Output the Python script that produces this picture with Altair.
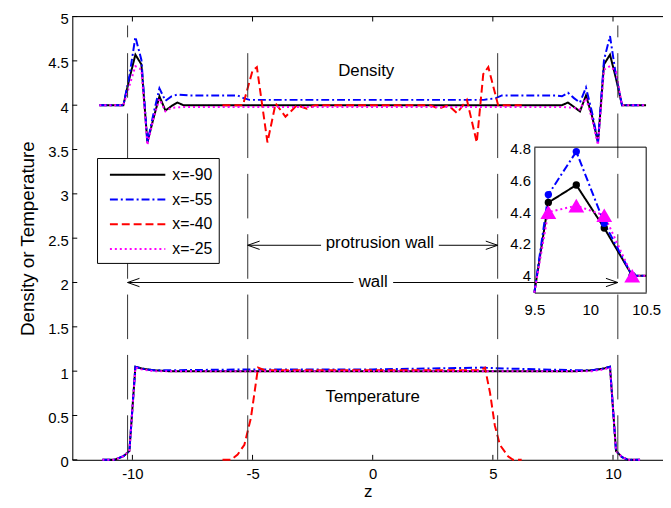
import altair as alt
import pandas as pd

FONT = "Liberation Sans"

series = ["x=-90", "x=-55", "x=-40", "x=-25"]
colors = ["#000000", "#0000ff", "#ff0000", "#ff00ff"]
dashes = [[1, 0], [8, 3, 2, 3], [8, 4], [2, 3]]

# ---- density profiles ----
dens_black_z = [-11.375, -10.375, -10.125, -9.875, -9.625, -9.375, -9.125, -8.875, -8.625, -8.375, -8.125, -7.875,
                7.875, 8.125, 8.375, 8.625, 8.875, 9.125, 9.375, 9.625, 9.875, 10.125, 10.375, 11.375]
dens_black_v = [4.0, 4.0, 4.30, 4.57, 4.46, 3.58, 3.85, 4.10, 3.94, 3.99, 4.03, 4.0,
                4.0, 4.03, 3.98, 3.93, 4.11, 3.88, 3.58, 4.46, 4.57, 4.30, 4.0, 4.0]

dens_blue_z = [-11.375, -10.375, -10.125, -9.875, -9.625, -9.375, -9.125, -8.875, -8.625, -8.375, -8.125, -7.625,
               -5.625, -5.375, -5.125, -4.625, 4.625, 5.125, 5.375, 7.625, 7.875, 8.125, 8.375, 8.625, 8.875,
               9.125, 9.375, 9.625, 9.875, 10.125, 10.375, 11.375]
dens_blue_v = [4.0, 4.0, 4.33, 4.77, 4.51, 3.58, 3.90, 4.19, 4.05, 4.10, 4.12, 4.11,
               4.11, 4.08, 4.06, 4.06, 4.06, 4.08, 4.11, 4.11, 4.10, 4.14, 4.08, 4.03, 4.20,
               3.92, 3.58, 4.51, 4.78, 4.33, 4.0, 4.0]

dens_red_z = [-6.25, -5.4, -5.0, -4.82, -4.38, -4.04, -3.63, -3.15, -2.74, -2.4,
              2.4, 2.74, 3.15, 3.51, 3.92, 4.33, 4.6, 4.81, 5.22, 6.2]
dens_red_v = [4.0, 4.0, 4.39, 4.43, 3.58, 4.02, 3.87, 4.0, 3.96, 4.0,
              4.0, 3.96, 4.0, 3.91, 4.06, 3.58, 4.35, 4.43, 4.0, 4.0]

dens_mag_z = [-11.375, -10.375, -10.125, -9.875, -9.625, -9.375, -9.125, -8.875, -8.625, -8.375, -7.875,
              7.875, 8.375, 8.625, 8.875, 9.125, 9.375, 9.625, 9.875, 10.125, 10.375, 11.375]
dens_mag_v = [4.0, 4.0, 4.22, 4.44, 4.40, 3.55, 3.85, 4.07, 3.93, 3.97, 3.98,
              3.98, 3.97, 3.95, 4.08, 3.85, 3.55, 4.40, 4.44, 4.38, 4.0, 4.0]

# ---- temperature profiles ----
temp_black_z = [-11.25, -10.75, -10.375, -10.125, -9.875, -9.625, -9.125, -8.5,
                8.5, 9.125, 9.625, 9.875, 10.125, 10.375, 10.625, 11.125]
temp_black_v = [0.0, 0.0, 0.04, 0.10, 1.05, 1.03, 1.01, 1.0,
                1.0, 1.01, 1.03, 1.05, 0.10, 0.03, 0.0, 0.0]

temp_blue_z = [-11.25, -10.75, -10.375, -10.125, -9.875, -9.625, -9.125, -8.5, -5.0, 0.0, 4.5, 5.5,
               8.5, 9.125, 9.625, 9.875, 10.125, 10.375, 10.625, 11.125]
temp_blue_v = [0.0, 0.0, 0.04, 0.10, 1.05, 1.03, 1.01, 1.01, 1.02, 1.02, 1.04, 1.03,
               1.01, 1.01, 1.03, 1.05, 0.10, 0.03, 0.0, 0.0]

temp_red_z = [-6.25, -5.9, -5.62, -5.34, -5.07, -4.77, -4.5, 4.5, 4.67, 4.88, 5.08, 5.29, 5.63, 5.84, 6.2]
temp_red_v = [0.0, 0.0, 0.06, 0.17, 0.47, 1.04, 1.01, 1.01, 1.04, 0.76, 0.39, 0.17, 0.04, 0.0, 0.0]

temp_mag_z = [-11.25, -10.75, -10.375, -10.125, -9.875, -9.625, -9.125, -8.5,
              8.5, 9.125, 9.625, 9.875, 10.125, 10.375, 10.625, 11.125]
temp_mag_v = [0.0, 0.0, 0.04, 0.10, 1.04, 1.02, 1.0, 1.0,
              1.0, 1.0, 1.02, 1.04, 0.10, 0.03, 0.0, 0.0]

# ---- annotations ----
wall_z = [-10.2, 10.2]
wall_top = 4.9
prot_z = [-5.2, 5.2]
prot_top = 4.6
labels_text = ["Density", "Temperature", "protrusion wall", "wall"]
labels_z = [-0.27, 0.0, 0.3, 0.02]
labels_v = [4.38, 0.71, 2.445, 2.01]
arrow_seg_z1 = [-5.2, 2.75, -10.2, 0.85]
arrow_seg_z2 = [-2.15, 5.2, -0.8, 10.2]
arrow_seg_v = [2.42, 2.42, 2.0, 2.0]
arrow_left_z = [-5.2, -10.2]
arrow_right_z = [5.2, 10.2]
arrow_head_v = [2.42, 2.0]

y_ticks = [0, 0.5, 1, 1.5, 2, 2.5, 3, 3.5, 4, 4.5, 5]
x_ticks = [-10, -5, 0, 5, 10]
inset_y_ticks = [4, 4.2, 4.4, 4.6, 4.8]
inset_x_ticks = [9.5, 10, 10.5]

XMIN, XMAX = -12.5, 12.08
W, H = 597, 448
# inset geometry (pixels inside plot area)
IN_L, IN_R, IN_T, IN_B = 467, 580, 132, 279
IN_XD = [9.5, 10.5]
IN_YD = [3.894, 4.808]

rows = []
for s, kind, zs, vs in [
    ("x=-90", "d", dens_black_z, dens_black_v), ("x=-55", "d", dens_blue_z, dens_blue_v),
    ("x=-40", "d", dens_red_z, dens_red_v), ("x=-25", "d", dens_mag_z, dens_mag_v),
    ("x=-90", "t", temp_black_z, temp_black_v), ("x=-55", "t", temp_blue_z, temp_blue_v),
    ("x=-40", "t", temp_red_z, temp_red_v), ("x=-25", "t", temp_mag_z, temp_mag_v)]:
    for i, (z, v) in enumerate(zip(zs, vs)):
        rows.append({"z": z, "v": v, "series": s, "kind": kind, "i": i})
df = pd.DataFrame(rows)

xs = alt.Scale(domain=[XMIN, XMAX], nice=False, zero=False)
ys = alt.Scale(domain=[0, 5], nice=False, zero=False)
color_scale = alt.Scale(domain=series, range=colors)
dash_scale = alt.Scale(domain=series, range=dashes)

legend = alt.Legend(
    title=None, orient="none", legendX=25, legendY=143, padding=6,
    strokeColor="black", fillColor="white", labelFont=FONT, labelFontSize=16,
    labelColor="black", symbolType="M-0.8,0L4.8,0", symbolSize=400,
    symbolStrokeWidth=2, rowPadding=6, columnPadding=0, labelOffset=44, symbolOffset=4,
)

x_axis = alt.Axis(values=x_ticks, labelExpr="'' + datum.value", title="z",
                  grid=False, ticks=False, domainColor="black", labelPadding=7,
                  labelFont=FONT, labelFontSize=15, labelColor="black",
                  titleFont=FONT, titleFontSize=17, titleFontWeight="normal",
                  titleColor="black", titlePadding=2)
y_axis = alt.Axis(values=y_ticks, labelExpr="'' + datum.value",
                  title="Density or Temperature", grid=False, ticks=False,
                  domainColor="black", labelPadding=4, labelOffset=2, labelFont=FONT,
                  labelFontSize=15, labelColor="black", titleFont=FONT,
                  titleFontSize=19, titleFontWeight="normal", titleColor="black",
                  titlePadding=10)


def series_layer(name, with_legend):
    lg = legend if with_legend else None
    return alt.Chart(df).transform_filter(alt.datum.series == name).mark_line(strokeWidth=2).encode(
        x=alt.X("z:Q", scale=xs, axis=x_axis),
        y=alt.Y("v:Q", scale=ys, axis=y_axis),
        color=alt.Color("series:N", scale=color_scale, legend=lg),
        strokeDash=alt.StrokeDash("series:N", scale=dash_scale, legend=lg),
        detail="kind:N",
        order="i:Q",
    )


vdf = pd.DataFrame({"z": wall_z + prot_z, "bot": [0.0] * 4, "top": [wall_top] * 2 + [prot_top] * 2})
vlines = alt.Chart(vdf).mark_rule(color="#333333", strokeWidth=1, strokeDash=[45, 16]).encode(
    x=alt.X("z:Q", scale=xs), y=alt.Y("bot:Q", scale=ys), y2="top:Q")

ytdf = pd.DataFrame({"v": y_ticks})
yt = alt.Chart(ytdf).mark_rule(color="black", strokeWidth=1).encode(
    y=alt.Y("v:Q", scale=ys), x=alt.value(0), x2=alt.value(5))
xtdf = pd.DataFrame({"z": x_ticks})
xtb = alt.Chart(xtdf).mark_rule(color="black", strokeWidth=1).encode(
    x=alt.X("z:Q", scale=xs), y=alt.value(H), y2=alt.value(H - 5))
xtt = alt.Chart(xtdf).mark_rule(color="black", strokeWidth=1).encode(
    x=alt.X("z:Q", scale=xs), y=alt.value(0), y2=alt.value(5))
topdf = pd.DataFrame({"a": [XMIN], "b": [XMAX], "v": [5.0]})
topb = alt.Chart(topdf).mark_rule(color="black", strokeWidth=1).encode(
    x=alt.X("a:Q", scale=xs), x2="b:Q", y=alt.Y("v:Q", scale=ys))

segdf = pd.DataFrame({"a": arrow_seg_z1, "b": arrow_seg_z2, "v": arrow_seg_v})
segs = alt.Chart(segdf).mark_rule(color="black", strokeWidth=1).encode(
    x=alt.X("a:Q", scale=xs), x2="b:Q", y=alt.Y("v:Q", scale=ys))
ahl = alt.Chart(pd.DataFrame({"z": arrow_left_z, "v": arrow_head_v})).mark_point(
    shape="M0,0L1.2,-0.42M0,0L1.2,0.42", size=400, color="black", strokeWidth=1, opacity=1).encode(
    x=alt.X("z:Q", scale=xs), y=alt.Y("v:Q", scale=ys))
ahr = alt.Chart(pd.DataFrame({"z": arrow_right_z, "v": arrow_head_v})).mark_point(
    shape="M0,0L-1.2,-0.42M0,0L-1.2,0.42", size=400, color="black", strokeWidth=1, opacity=1).encode(
    x=alt.X("z:Q", scale=xs), y=alt.Y("v:Q", scale=ys))
txt = alt.Chart(pd.DataFrame({"z": labels_z, "v": labels_v, "t": labels_text})).mark_text(
    font=FONT, fontSize=17, color="black", baseline="middle", align="center").encode(
    x=alt.X("z:Q", scale=xs), y=alt.Y("v:Q", scale=ys), text="t:N")

main = alt.layer(
    series_layer("x=-90", True), series_layer("x=-55", False),
    series_layer("x=-40", False), series_layer("x=-25", False),
    vlines, topb, segs, ahl, ahr, txt, yt, xtb, xtt,
)

# ---- inset ----
ixs = alt.Scale(domain=IN_XD, range=[IN_L, IN_R], clamp=True, nice=False, zero=False)
iys = alt.Scale(domain=IN_YD, range=[IN_B, IN_T], clamp=True, nice=False, zero=False)
ix_axis = alt.Axis(orient="bottom", offset=IN_B - H, values=inset_x_ticks, labelExpr="'' + datum.value",
                   title=None, grid=False, ticks=False, domainColor="black", labelPadding=10,
                   labelFlush=False, labelFont=FONT, labelFontSize=15, labelColor="black")
iy_axis = alt.Axis(orient="left", offset=-IN_L, values=inset_y_ticks, labelExpr="'' + datum.value",
                   title=None, grid=False, ticks=False, domainColor="black", labelPadding=4,
                   labelFlush=False, labelFont=FONT, labelFontSize=15, labelColor="black")

idf = df[(df["kind"] == "d") & (df["series"] != "x=-40") & (df["z"] > 9.3)].copy()


def inset_line(name):
    return alt.Chart(idf).transform_filter(alt.datum.series == name).mark_line(strokeWidth=2).encode(
        x=alt.X("z:Q", scale=ixs, axis=ix_axis),
        y=alt.Y("v:Q", scale=iys, axis=iy_axis),
        color=alt.Color("series:N", scale=color_scale, legend=None),
        strokeDash=alt.StrokeDash("series:N", scale=dash_scale, legend=None),
        order="i:Q")


def inset_pts(name, shape, size):
    return alt.Chart(idf).transform_filter(
        (alt.datum.series == name) & (alt.datum.z >= 9.5) & (alt.datum.z <= 10.5)).mark_point(
        shape=shape, size=size, filled=True, opacity=1).encode(
        x=alt.X("z:Q", scale=ixs, axis=ix_axis), y=alt.Y("v:Q", scale=iys, axis=iy_axis),
        color=alt.Color("series:N", scale=color_scale, legend=None))


iboxdf = pd.DataFrame({"a": [IN_XD[0], IN_XD[1]], "b": [IN_XD[1], IN_XD[1]],
                       "c": [IN_YD[1], IN_YD[0]], "d": [IN_YD[1], IN_YD[1]]})
ibox = alt.Chart(iboxdf).mark_rule(color="black", strokeWidth=1).encode(
    x=alt.X("a:Q", scale=ixs, axis=ix_axis), x2="b:Q",
    y=alt.Y("c:Q", scale=iys, axis=iy_axis), y2="d:Q")

inset = alt.layer(
    inset_line("x=-90"), inset_line("x=-55"), inset_line("x=-25"),
    inset_pts("x=-90", "circle", 55), inset_pts("x=-55", "circle", 55),
    inset_pts("x=-25", "triangle-up", 256), ibox,
)

chart = alt.layer(main, inset).resolve_scale(x="independent", y="independent").properties(
    width=W, height=H,
    autosize=alt.AutoSizeParams(type="none"),
    padding={"left": 65, "top": 6, "right": 0, "bottom": 40},
).configure_view(strokeWidth=0).configure(background="white")

chart.save("out.html", embed_options={"renderer": "svg", "actions": False})
